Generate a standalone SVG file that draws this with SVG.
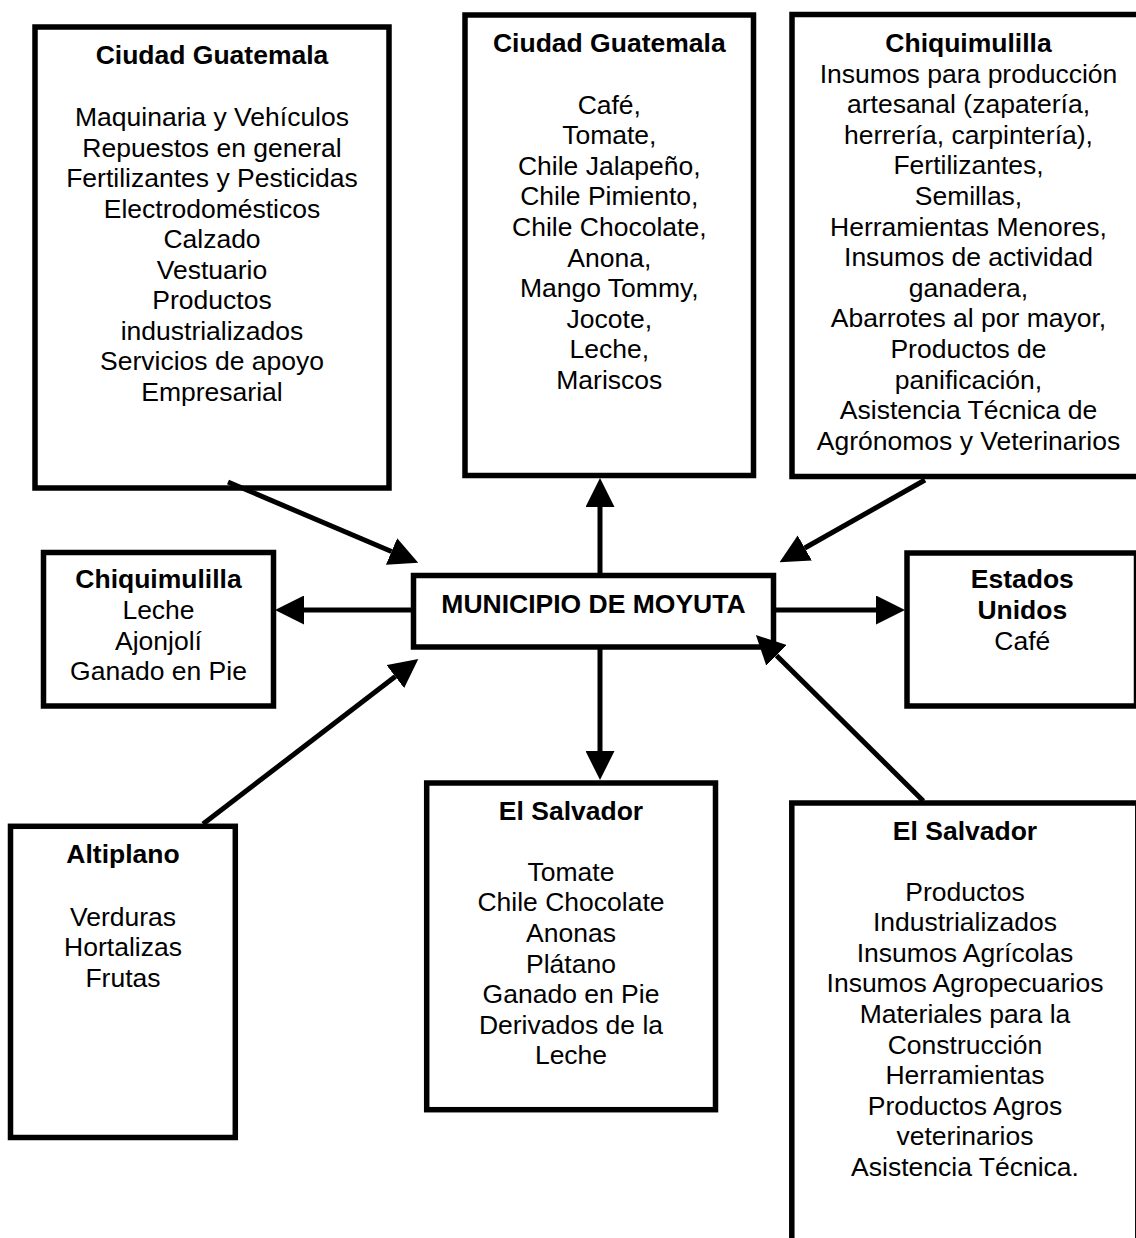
<svg xmlns="http://www.w3.org/2000/svg" width="1136" height="1238" viewBox="0 0 1136 1238">
<defs>
<style>
.box{fill:#fff;stroke:#000;stroke-width:5.5}
.t{font-family:"Liberation Sans",Arial,sans-serif;font-size:26.5px;fill:#000;text-anchor:middle}
.b{font-weight:bold}
.con{stroke:#000;stroke-width:5;fill:none;marker-end:url(#ah)}
</style>
<marker id="ah" markerUnits="userSpaceOnUse" viewBox="0 0 29 29" refX="0" refY="14.5" markerWidth="29" markerHeight="29" orient="auto"><path d="M0,0 L29,14.5 L0,29 Z" fill="#000"/></marker>
</defs>
<rect x="0" y="0" width="1136" height="1238" fill="#fff"/>
<g id="node-cg-left">
<rect class="box" x="35" y="27" width="354" height="461"/>
<text class="t"><tspan class="b" x="212" y="64">Ciudad Guatemala</tspan><tspan x="212" y="126">Maquinaria y Vehículos</tspan><tspan x="212" dy="30.56">Repuestos en general</tspan><tspan x="212" dy="30.56">Fertilizantes y Pesticidas</tspan><tspan x="212" dy="30.56">Electrodomésticos</tspan><tspan x="212" dy="30.56">Calzado</tspan><tspan x="212" dy="30.56">Vestuario</tspan><tspan x="212" dy="30.56">Productos</tspan><tspan x="212" dy="30.56">industrializados</tspan><tspan x="212" dy="30.56">Servicios de apoyo</tspan><tspan x="212" dy="30.56">Empresarial</tspan></text>
</g>
<g id="node-cg-mid">
<rect class="box" x="465" y="15" width="288.5" height="460.5"/>
<text class="t"><tspan class="b" x="609.3" y="52.3">Ciudad Guatemala</tspan><tspan x="609.3" y="113.5">Café,</tspan><tspan x="609.3" dy="30.6">Tomate,</tspan><tspan x="609.3" dy="30.6">Chile Jalapeño,</tspan><tspan x="609.3" dy="30.6">Chile Pimiento,</tspan><tspan x="609.3" dy="30.6">Chile Chocolate,</tspan><tspan x="609.3" dy="30.6">Anona,</tspan><tspan x="609.3" dy="30.6">Mango Tommy,</tspan><tspan x="609.3" dy="30.6">Jocote,</tspan><tspan x="609.3" dy="30.6">Leche,</tspan><tspan x="609.3" dy="30.6">Mariscos</tspan></text>
</g>
<g id="node-chiq-top">
<rect class="box" x="792" y="14.5" width="353" height="462"/>
<text class="t"><tspan class="b" x="968.5" y="52">Chiquimulilla</tspan><tspan x="968.5" dy="30.6">Insumos para producción</tspan><tspan x="968.5" dy="30.6">artesanal (zapatería,</tspan><tspan x="968.5" dy="30.6">herrería, carpintería),</tspan><tspan x="968.5" dy="30.6">Fertilizantes,</tspan><tspan x="968.5" dy="30.6">Semillas,</tspan><tspan x="968.5" dy="30.6">Herramientas Menores,</tspan><tspan x="968.5" dy="30.6">Insumos de actividad</tspan><tspan x="968.5" dy="30.6">ganadera,</tspan><tspan x="968.5" dy="30.6">Abarrotes al por mayor,</tspan><tspan x="968.5" dy="30.6">Productos de</tspan><tspan x="968.5" dy="30.6">panificación,</tspan><tspan x="968.5" dy="30.6">Asistencia Técnica de</tspan><tspan x="968.5" dy="30.6">Agrónomos y Veterinarios</tspan></text>
</g>
<g id="node-chiq-left">
<rect class="box" x="43.5" y="552.5" width="230" height="153.5"/>
<text class="t"><tspan class="b" x="158.5" y="588.3">Chiquimulilla</tspan><tspan x="158.5" dy="30.6">Leche</tspan><tspan x="158.5" dy="30.6">Ajonjolí</tspan><tspan x="158.5" dy="30.6">Ganado en Pie</tspan></text>
</g>
<g id="node-moyuta">
<rect class="box" x="413.5" y="575.5" width="360" height="71.5"/>
<text class="t b" x="593.5" y="612.7">MUNICIPIO DE MOYUTA</text>
</g>
<g id="node-eeuu">
<rect class="box" x="907" y="553" width="229.5" height="153"/>
<text class="t"><tspan class="b" x="1022.3" y="588.3">Estados</tspan><tspan class="b" x="1022.3" dy="30.6">Unidos</tspan><tspan x="1022.3" dy="30.6">Café</tspan></text>
</g>
<g id="node-altiplano">
<rect class="box" x="10.5" y="826.3" width="224.8" height="311.2"/>
<text class="t"><tspan class="b" x="123" y="863.3">Altiplano</tspan><tspan x="123" y="925.7">Verduras</tspan><tspan x="123" dy="30.6">Hortalizas</tspan><tspan x="123" dy="30.6">Frutas</tspan></text>
</g>
<g id="node-els-mid">
<rect class="box" x="426.7" y="783" width="288.8" height="326.7"/>
<text class="t"><tspan class="b" x="571" y="820">El Salvador</tspan><tspan x="571" y="880.7">Tomate</tspan><tspan x="571" dy="30.6">Chile Chocolate</tspan><tspan x="571" dy="30.6">Anonas</tspan><tspan x="571" dy="30.6">Plátano</tspan><tspan x="571" dy="30.6">Ganado en Pie</tspan><tspan x="571" dy="30.6">Derivados de la</tspan><tspan x="571" dy="30.6">Leche</tspan></text>
</g>
<g id="node-els-right">
<rect class="box" x="791.8" y="803" width="346" height="460"/>
<text class="t"><tspan class="b" x="965" y="840">El Salvador</tspan><tspan x="965" y="900.6">Productos</tspan><tspan x="965" dy="30.6">Industrializados</tspan><tspan x="965" dy="30.6">Insumos Agrícolas</tspan><tspan x="965" dy="30.6">Insumos Agropecuarios</tspan><tspan x="965" dy="30.6">Materiales para la</tspan><tspan x="965" dy="30.6">Construcción</tspan><tspan x="965" dy="30.6">Herramientas</tspan><tspan x="965" dy="30.6">Productos Agros</tspan><tspan x="965" dy="30.6">veterinarios</tspan><tspan x="965" dy="30.6">Asistencia Técnica.</tspan></text>
</g>
<g id="connectors">
<line class="con" x1="228" y1="482" x2="391.5" y2="551.5"/>
<line class="con" x1="600" y1="575" x2="600" y2="507"/>
<line class="con" x1="925" y1="480" x2="804.8" y2="548"/>
<line class="con" x1="413" y1="610" x2="304" y2="610"/>
<line class="con" x1="773" y1="610" x2="876" y2="610"/>
<line class="con" x1="600" y1="647" x2="600" y2="751"/>
<line class="con" x1="203" y1="824" x2="395.3" y2="676.6"/>
<line class="con" x1="923.3" y1="801" x2="776.5" y2="655.4"/>
</g>
</svg>
